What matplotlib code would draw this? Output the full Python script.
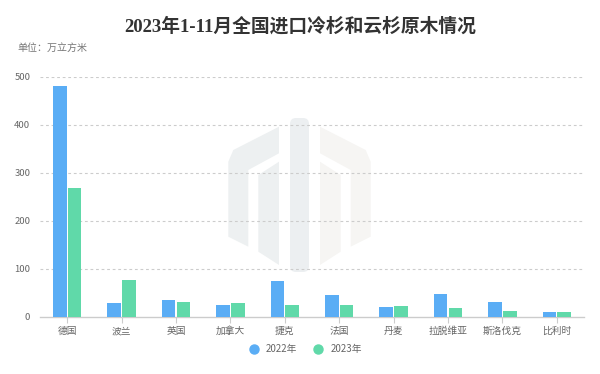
import matplotlib
matplotlib.use("Agg")
import matplotlib.pyplot as plt
import numpy as np
from matplotlib.patches import Polygon, FancyBboxPatch
from matplotlib.lines import Line2D

categories = ["德国", "波兰", "英国", "加拿大", "捷克", "法国", "丹麦", "拉脱维亚", "斯洛伐克", "比利时"]
series_names = ["2022年", "2023年"]
values_2022 = [481, 30, 35, 24, 75, 46, 20, 48, 31, 10]
values_2023 = [268, 76, 32, 29, 24, 24, 23, 18, 12, 10]
yticks = [0, 100, 200, 300, 400, 500]
title = "2023年1-11月全国进口冷杉和云杉原木情况"
unit = "单位：万立方米"

c_blue = "#5AADF5"
c_green = "#60D9A9"
CJK = ["Noto Sans CJK SC", "DejaVu Sans"]
plt.rcParams["font.family"] = CJK

fig = plt.figure(figsize=(6, 3.74), dpi=100)
fig.patch.set_facecolor("white")

# watermark background (pixel coords)
bg = fig.add_axes([0, 0, 1, 1], zorder=0)
bg.set_xlim(0, 600); bg.set_ylim(374, 0); bg.axis("off")
left_outer = [(279, 126.7), (279, 153.3), (248.3, 170), (248.3, 246.7), (228.3, 236.7), (228.3, 161.7), (233.3, 150)]
left_inner = [(279, 161.7), (279, 265), (258.3, 251.7), (258.3, 175)]
for poly, col in [(left_outer, "#EDF0F1"), (left_inner, "#EDF0F1")]:
    bg.add_patch(Polygon(poly, closed=True, facecolor=col, edgecolor="none"))
    mirrored = [(599 - x, y) for x, y in poly]
    bg.add_patch(Polygon(mirrored, closed=True, facecolor="#F6F5F3", edgecolor="none"))
bg.add_patch(FancyBboxPatch((290, 118), 19, 154, boxstyle="round,pad=0,rounding_size=6",
                            facecolor="#ECEFF1", edgecolor="none"))

ax = fig.add_axes([40 / 600, 1 - 317 / 374, 544 / 600, (317 - 76.7) / 374], zorder=1)
ax.set_facecolor("none")
x = np.arange(len(categories))
w = 0.25
ax.bar(x - w / 2 - 0.01, values_2022, w, color=c_blue, zorder=3)
ax.bar(x + w / 2 + 0.01, values_2023, w, color=c_green, zorder=3)
ax.set_xlim(-0.5, len(categories) - 0.5)
ax.set_ylim(0, 500)
ax.set_yticks(yticks)
ax.set_yticklabels([str(v) for v in yticks], fontsize=6.8, color="#666666")
ax.set_xticks(x)
ax.set_xticklabels(categories, fontsize=7, color="#666666")
ax.tick_params(axis="y", length=0, pad=7)
ax.tick_params(axis="x", length=4, color="#CCCCCC", pad=2.5)
for v in yticks[1:]:
    ax.axhline(v, color="#CCCCCC", lw=0.8, ls=(0, (2.5, 2.5)), zorder=1)
for s in ["top", "right", "left"]:
    ax.spines[s].set_visible(False)
ax.spines["bottom"].set_color("#CCCCCC")
ax.spines["bottom"].set_linewidth(1.0)

fig.text(300 / 600, 1 - 26 / 374, title, ha="center", va="center", fontsize=13.5,
         fontweight="bold", color="#333333", family=["Liberation Serif", "Noto Sans CJK SC"])
fig.text(17 / 600, 1 - 48 / 374, unit, ha="left", va="center", fontsize=7.2, color="#777777")

handles = [Line2D([], [], marker="o", ls="none", color=c, markersize=6.5) for c in (c_blue, c_green)]
fig.legend(handles, series_names, loc="center", bbox_to_anchor=(303 / 600, 1 - 349 / 374), ncol=2,
           frameon=False, fontsize=7, handletextpad=0.2, columnspacing=1.2, labelcolor="#666666")

fig.savefig("out.png", dpi=100)
